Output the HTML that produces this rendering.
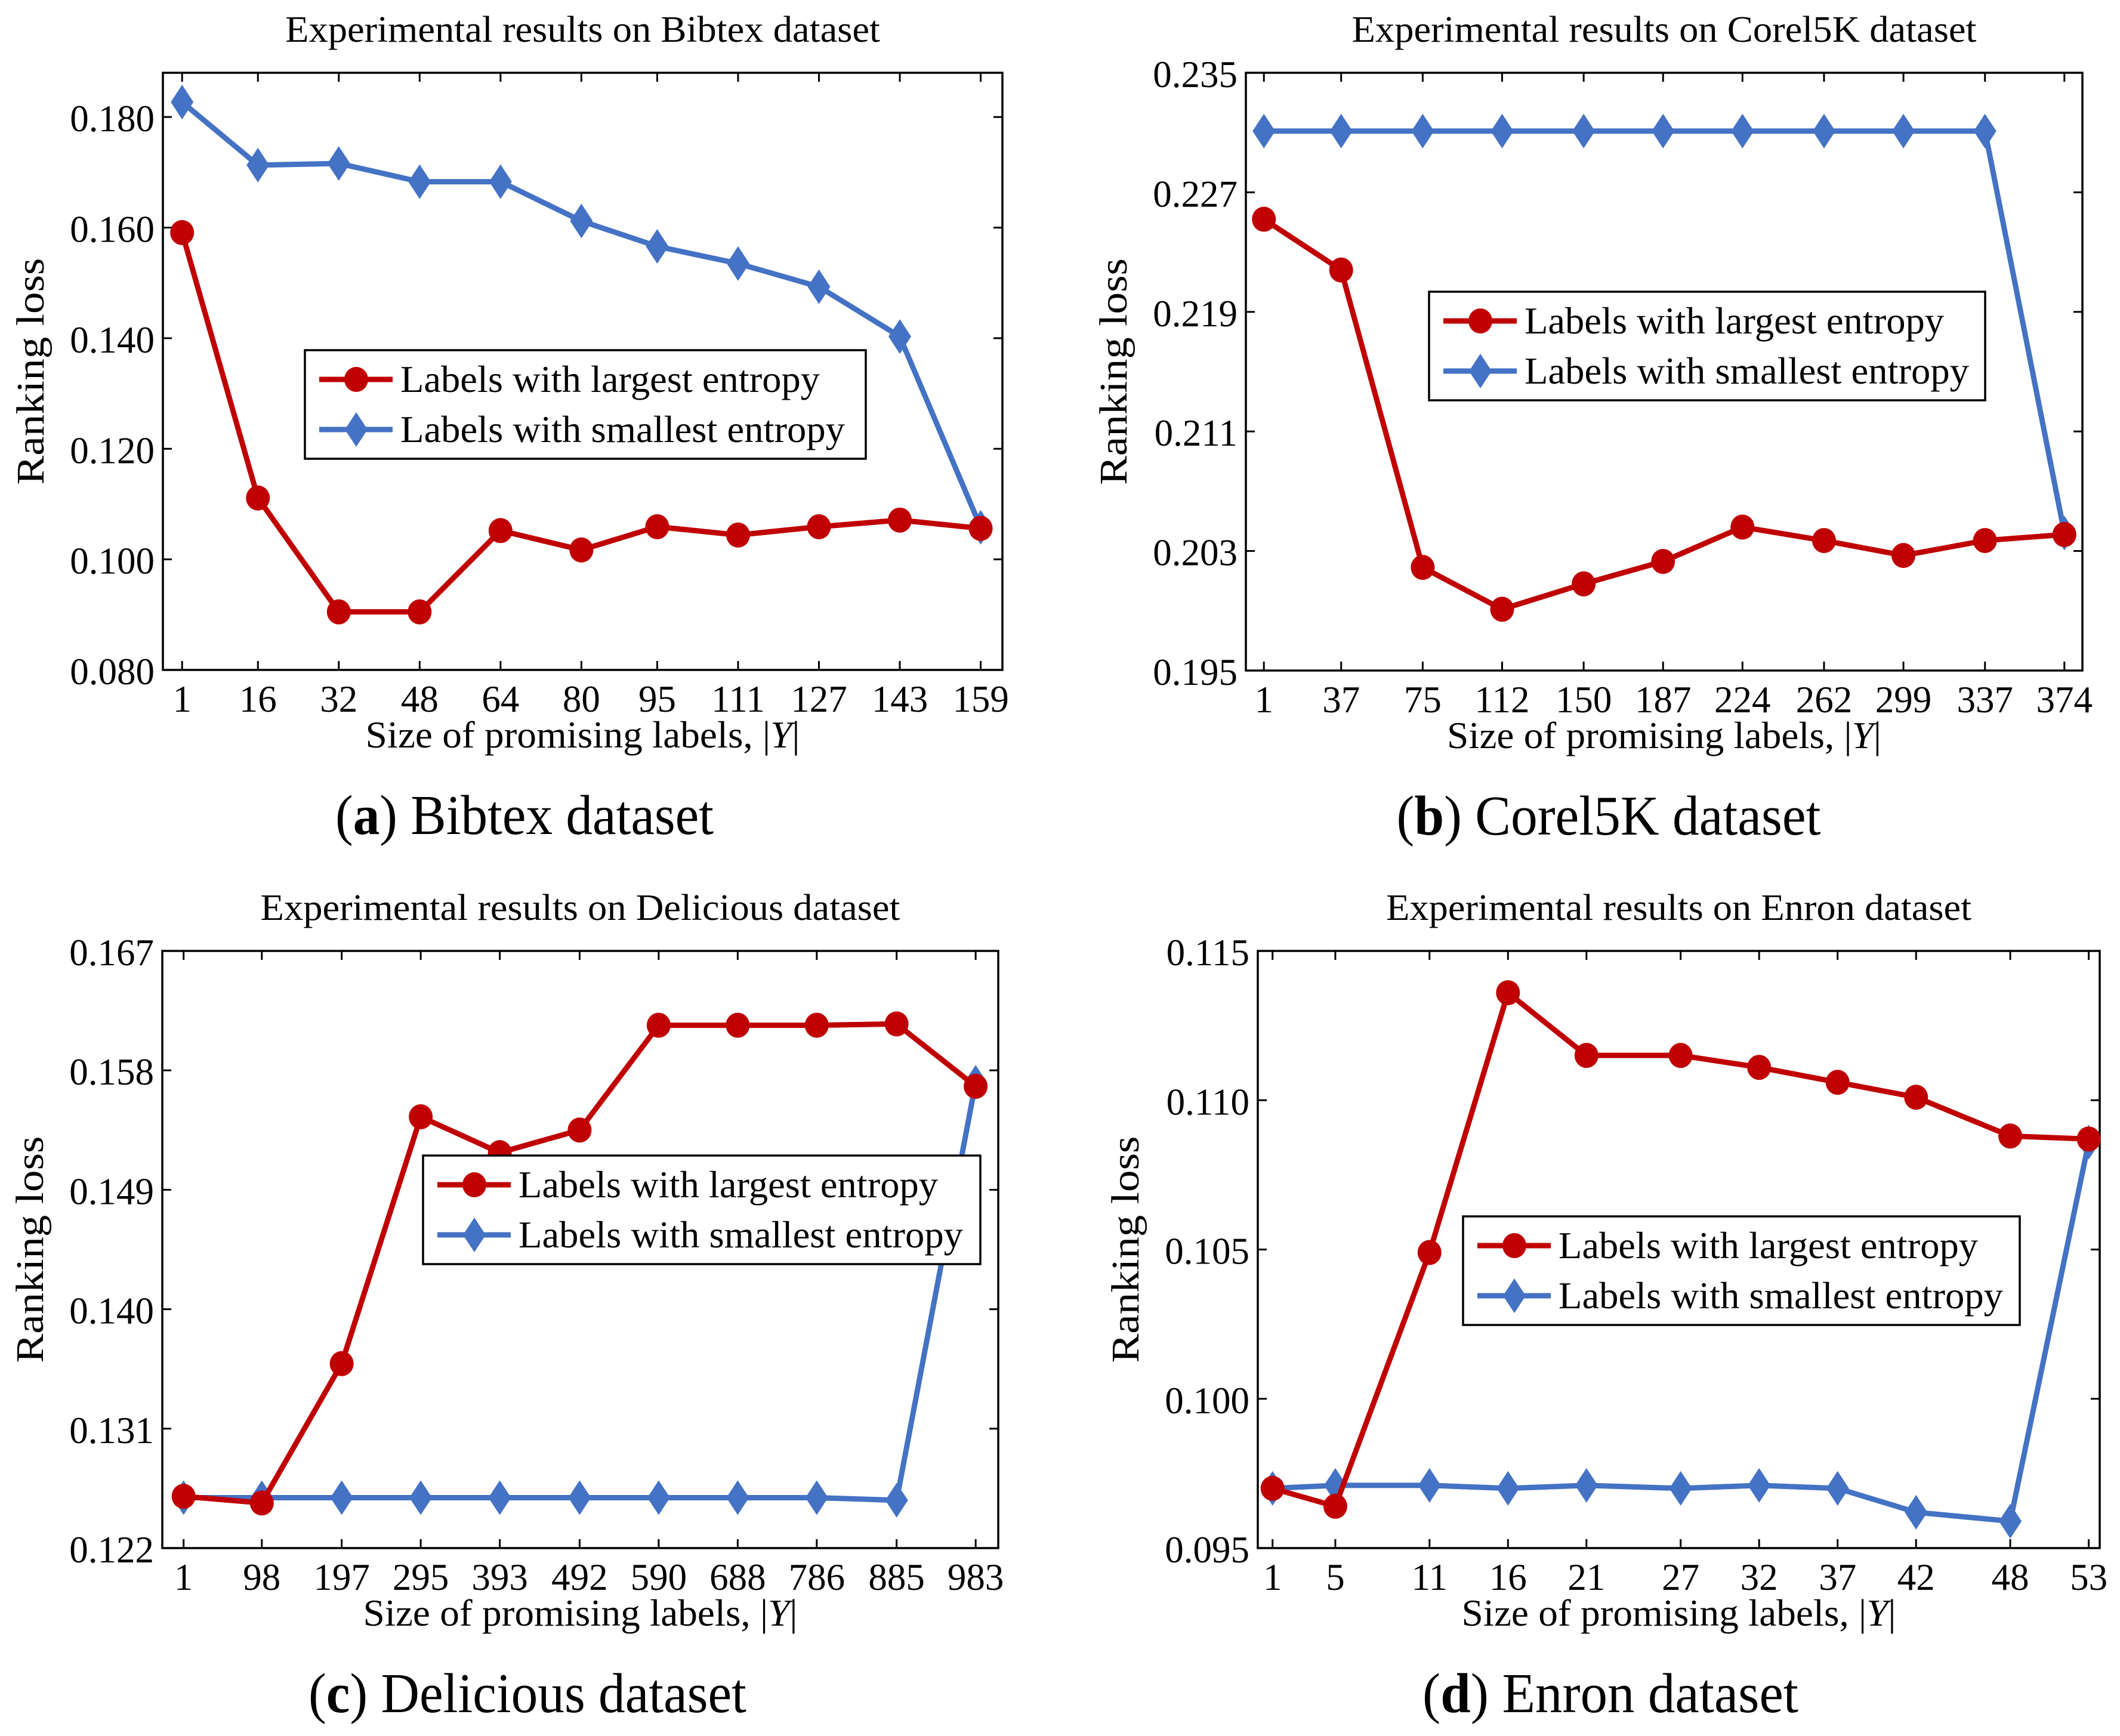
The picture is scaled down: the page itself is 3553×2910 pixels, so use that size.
<!DOCTYPE html>
<html><head><meta charset="utf-8"><style>
html,body{margin:0;padding:0;background:#fff;}
svg{display:block;font-family:"Liberation Serif",serif;}
</style></head><body>
<svg id="fig" width="3553" height="2910" viewBox="0 0 3553 2910" xmlns="http://www.w3.org/2000/svg"></svg>
<script>
// ---- data ----
const bibtexX = [1,16,32,48,64,80,95,111,127,143,159];
const bibtexLargest = [0.1591,0.1111,0.0905,0.0905,0.1052,0.1017,0.1059,0.1044,0.1059,0.1071,0.1056];
const bibtexSmallest = [0.1827,0.1713,0.1716,0.1683,0.1683,0.1612,0.1566,0.1535,0.1493,0.1403,0.1058];
const bibtexYTicks = ["0.080","0.100","0.120","0.140","0.160","0.180"];

const corelX = [1,37,75,112,150,187,224,262,299,337,374];
const corelLargest = [0.2252,0.2218,0.2019,0.1991,0.2008,0.2023,0.2046,0.2037,0.2027,0.2037,0.2041];
const corelSmallest = [0.2311,0.2311,0.2311,0.2311,0.2311,0.2311,0.2311,0.2311,0.2311,0.2311,0.2042];
const corelYTicks = ["0.195","0.203","0.211","0.219","0.227","0.235"];

const deliciousX = [1,98,197,295,393,492,590,688,786,885,983];
const deliciousLargest = [0.1259,0.1254,0.1359,0.1545,0.1518,0.1535,0.1614,0.1614,0.1614,0.1615,0.1568];
const deliciousSmallest = [0.1258,0.1258,0.1258,0.1258,0.1258,0.1258,0.1258,0.1258,0.1258,0.1256,0.1571];
const deliciousYTicks = ["0.122","0.131","0.140","0.149","0.158","0.167"];

const enronX = [1,5,11,16,21,27,32,37,42,48,53];
const enronLargest = [0.0970,0.0964,0.1049,0.1136,0.1115,0.1115,0.1111,0.1106,0.1101,0.1088,0.1087];
const enronSmallest = [0.0970,0.0971,0.0971,0.0970,0.0971,0.0970,0.0971,0.0970,0.0962,0.0959,0.1086];
const enronYTicks = ["0.095","0.100","0.105","0.110","0.115"];

const seriesNames = ["Labels with largest entropy","Labels with smallest entropy"];

const RED = "#c00000", BLUE = "#4472c4";
const NS = "http://www.w3.org/2000/svg";
const svg = document.getElementById("fig");
function mk(tag, attrs, parent, text){
  const e = document.createElementNS(NS, tag);
  for (const k in attrs) e.setAttribute(k, attrs[k]);
  if (text !== undefined) e.textContent = text;
  (parent||svg).appendChild(e);
  return e;
}

const panels = [
  {key:"bibtex", title:"Experimental results on Bibtex dataset", titleLen:997, letter:"a", cap:" Bibtex dataset", capLen:634,
   L:273,R:1680,T:122,B:1123, xmin:-2.8,xmax:163.3, ymin:0.080,ymax:0.188,
   xs:bibtexX, r:bibtexLargest, b:bibtexSmallest, yt:bibtexYTicks,
   leg:[511,587,940,182], capX:879},
  {key:"corel", title:"Experimental results on Corel5K dataset", titleLen:1047, letter:"b", cap:" Corel5K dataset", capLen:711,
   L:2088,R:3490,T:122,B:1124, xmin:-7.4,xmax:382.4, ymin:0.195,ymax:0.235,
   xs:corelX, r:corelLargest, b:corelSmallest, yt:corelYTicks,
   leg:[2395,489,932,182], capX:2696},
  {key:"delicious", title:"Experimental results on Delicious dataset", titleLen:1072, letter:"c", cap:" Delicious dataset", capLen:734,
   L:272,R:1673,T:1594,B:2595, xmin:-25.4,xmax:1011, ymin:0.122,ymax:0.167,
   xs:deliciousX, r:deliciousLargest, b:deliciousSmallest, yt:deliciousYTicks,
   leg:[709,1937,934,182], capX:884},
  {key:"enron", title:"Experimental results on Enron dataset", titleLen:981, letter:"d", cap:" Enron dataset", capLen:630,
   L:2108,R:3519,T:1594,B:2595, xmin:0.06,xmax:53.7, ymin:0.095,ymax:0.115,
   xs:enronX, r:enronLargest, b:enronSmallest, yt:enronYTicks,
   leg:[2452,2039,933,182], capX:2699}
];

function diamond(g, cx, cy, name){
  const p = mk("polygon",{points:`${cx},${cy-29} ${cx+19},${cy} ${cx},${cy+29} ${cx-19},${cy}`, fill:BLUE}, g);
  
  
}
function circle(g, cx, cy, name){
  const c = mk("ellipse",{cx:cx, cy:cy, rx:20, ry:21, fill:RED}, g);
  
  
}

panels.forEach(P=>{
  const g = mk("g",{});
  
  
  const sx = v => P.L + (v - P.xmin) / (P.xmax - P.xmin) * (P.R - P.L);
  const sy = v => P.B - (v - P.ymin) / (P.ymax - P.ymin) * (P.B - P.T);
  const cx = (P.L + P.R) / 2;

  const t = mk("text",{x:cx, y:P.T-52, "text-anchor":"middle", "font-size":62, textLength:P.titleLen, lengthAdjust:"spacingAndGlyphs"}, g, P.title);
  
  

  P.xs.forEach(v=>{
    const x = sx(v);
    mk("line",{x1:x,y1:P.B,x2:x,y2:P.B-15,stroke:"#000","stroke-width":3}, g);
    mk("line",{x1:x,y1:P.T,x2:x,y2:P.T+15,stroke:"#000","stroke-width":3}, g);
    const tl = mk("text",{x:x, y:P.B+70, "text-anchor":"middle", "font-size":63}, g, String(v));
    
    
  });
  P.yt.forEach(s=>{
    const y = sy(parseFloat(s));
    mk("line",{x1:P.L,y1:y,x2:P.L+15,y2:y,stroke:"#000","stroke-width":3}, g);
    mk("line",{x1:P.R,y1:y,x2:P.R-15,y2:y,stroke:"#000","stroke-width":3}, g);
    const tl = mk("text",{x:P.L-14, y:y+24, "text-anchor":"end", "font-size":63}, g, s);
    
    
  });
  const box = mk("rect",{x:P.L,y:P.T,width:P.R-P.L,height:P.B-P.T,fill:"none",stroke:"#000","stroke-width":3.5}, g);
  
  

  const xl = mk("text",{x:cx, y:P.B+130, "text-anchor":"middle", "font-size":64, textLength:728, lengthAdjust:"spacingAndGlyphs"}, g);
  
  
  mk("tspan",{},xl,"Size of promising labels, |");
  mk("tspan",{"font-style":"italic"},xl,"Y");
  mk("tspan",{},xl,"|");

  const yl = mk("text",{x:0,y:0,"text-anchor":"middle","font-size":66, textLength:380, lengthAdjust:"spacingAndGlyphs",
    transform:`translate(${P.L-200},${(P.T+P.B)/2}) rotate(-90)`}, g, "Ranking loss");
  
  

  const rp = P.xs.map((v,i)=>`${sx(v)},${sy(P.r[i])}`).join(" ");
  const bp = P.xs.map((v,i)=>`${sx(v)},${sy(P.b[i])}`).join(" ");
  const bl = mk("polyline",{points:bp,fill:"none",stroke:BLUE,"stroke-width":9,"stroke-linejoin":"round"}, g);
  
  
  P.xs.forEach((v,i)=>diamond(g, sx(v), sy(P.b[i]), 'smallest-entropy-point'));
  const rl = mk("polyline",{points:rp,fill:"none",stroke:RED,"stroke-width":9,"stroke-linejoin":"round"}, g);
  
  
  P.xs.forEach((v,i)=>circle(g, sx(v), sy(P.r[i]), 'largest-entropy-point'));

  const [lx,ly,lw,lh] = P.leg;
  const lg = mk("g",{}, g);
  
  
  mk("rect",{x:lx,y:ly,width:lw,height:lh,fill:"#fff",stroke:"#000","stroke-width":3.5}, lg);
  const y1 = ly+49, y2 = ly+133;
  mk("line",{x1:lx+24,y1:y1,x2:lx+147,y2:y1,stroke:RED,"stroke-width":9}, lg);
  circle(lg, lx+86, y1, 'legend-marker-largest');
  mk("line",{x1:lx+24,y1:y2,x2:lx+147,y2:y2,stroke:BLUE,"stroke-width":9}, lg);
  diamond(lg, lx+86, y2, 'legend-marker-smallest');
  const e1 = mk("text",{x:lx+160,y:y1+21,"font-size":64,textLength:703,lengthAdjust:"spacingAndGlyphs"}, lg, seriesNames[0]);
  
  
  const e2 = mk("text",{x:lx+160,y:y2+21,"font-size":64,textLength:745,lengthAdjust:"spacingAndGlyphs"}, lg, seriesNames[1]);
  
  

  const cap = mk("text",{x:P.capX, y:P.B+275, "text-anchor":"middle", "font-size":94, textLength:P.capLen, lengthAdjust:"spacingAndGlyphs"}, svg);
  
  
  mk("tspan",{},cap,"(");
  mk("tspan",{"font-weight":"bold"},cap,P.letter);
  mk("tspan",{},cap,")" + P.cap);
});
</script>
</body></html>
